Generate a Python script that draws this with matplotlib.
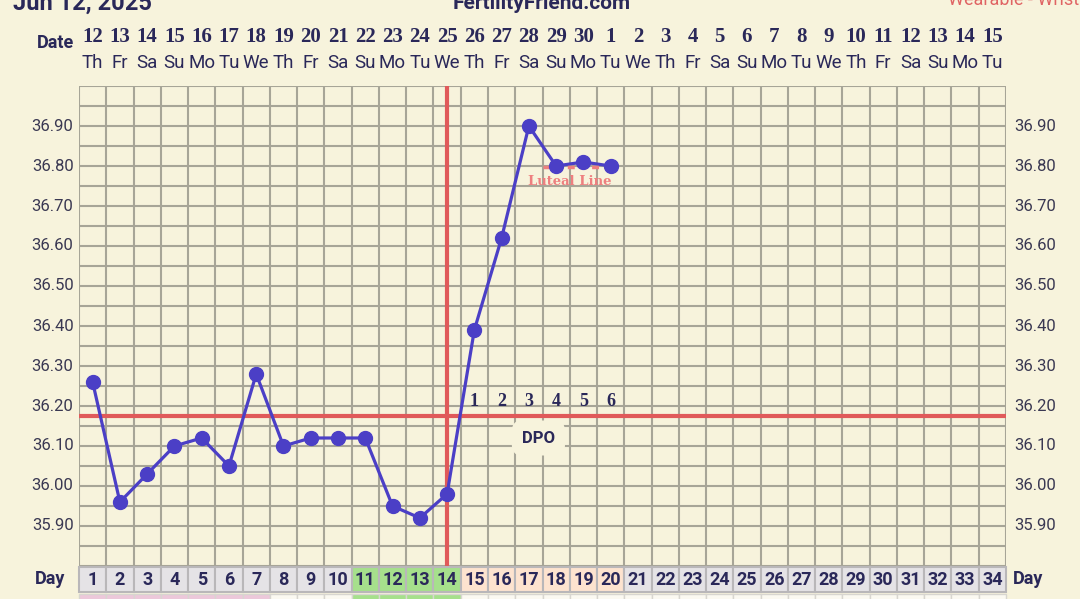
import matplotlib.pyplot as plt
from matplotlib.patches import Rectangle

# chart values
cycle_days = list(range(1, 35))
dates = [str(d) for d in range(12, 31)] + [str(d) for d in range(1, 16)]
weekdays = ["Th", "Fr", "Sa", "Su", "Mo", "Tu", "We"] * 5
weekdays = weekdays[:34]
temp_days = list(range(1, 21))
temps = [36.26, 35.96, 36.03, 36.10, 36.12, 36.05, 36.28, 36.10, 36.12, 36.12,
         36.12, 35.95, 35.92, 35.98, 36.39, 36.62, 36.90, 36.80, 36.81, 36.80]
coverline = 36.175
ovulation_day = 14
dpo_labels = ["1", "2", "3", "4", "5", "6"]
dpo_days = [15, 16, 17, 18, 19, 20]
luteal_level = 36.80
# cell phase for day row: gray / fertile green / luteal peach
day_phase = ["gray"] * 10 + ["green"] * 4 + ["peach"] * 6 + ["gray"] * 14
strip_phase = ["pink"] * 7 + ["white"] * 3 + ["green"] * 4 + ["white"] * 20

BG = "#f7f3dc"
GRID = "#a7a597"
NAVY = "#2a2859"
LINE = "#4b3fc6"
RED = "#e05a5a"
PHASE_COLORS = {"gray": "#e5e3e6", "green": "#a6e08c", "peach": "#fde3cf",
                "pink": "#ecc8da", "white": "#fbf9f1"}

fig = plt.figure(figsize=(10.8, 5.99), dpi=100, facecolor=BG)
ax = fig.add_axes([79 / 1080, 33 / 599, 927 / 1080, 480 / 599])
ax.set_facecolor(BG)
ax.set_xlim(0.5, 34.5)
ax.set_ylim(35.80, 37.00)

# grid
for i in range(35):
    ax.axvline(0.5 + i, color=GRID, lw=1.5, zorder=1)
for k in range(25):
    ax.axhline(35.80 + 0.05 * k, color=GRID, lw=1.5, zorder=1)
for s in ax.spines.values():
    s.set_visible(False)
ax.set_xticks([])
ax.set_yticks([])

# y labels both sides
for k in range(12):
    t = 35.90 + 0.1 * k
    if t > 36.95:
        continue
    ax.text(0.3, t, f"{t:.2f}", ha="right", va="center", fontsize=12,
            color="#3a3852", family="Roboto", clip_on=False)
    ax.text(34.8, t, f"{t:.2f}", ha="left", va="center", fontsize=12,
            color="#3a3852", family="Roboto", clip_on=False)

# header rows
for d, dt, wd in zip(cycle_days, dates, weekdays):
    ax.text(d, 37.122, dt, ha="center", va="center", fontsize=15,
            fontweight="bold", color=NAVY, family="Liberation Serif", clip_on=False)
    ax.text(d, 37.057, wd, ha="center", va="center", fontsize=13.5,
            color=NAVY, family="Roboto", clip_on=False)
ax.text(-0.35, 37.108, "Date", ha="center", va="center", fontsize=13,
        fontweight="bold", color=NAVY, family="Roboto", clip_on=False)

# day row and the strip under it
for d, ph, sp in zip(cycle_days, day_phase, strip_phase):
    ax.add_patch(Rectangle((d - 0.5, 35.735), 1, 0.063, facecolor=PHASE_COLORS[ph],
                           edgecolor="#b9b7b9", lw=1.5, clip_on=False, zorder=2))
    ax.add_patch(Rectangle((d - 0.5, 35.66), 1, 0.07, facecolor=PHASE_COLORS[sp],
                           edgecolor="#d8d6d0", lw=1, clip_on=False, zorder=2))
    ax.text(d, 35.766, str(d), ha="center", va="center", fontsize=13,
            fontweight="bold", color=NAVY, family="Roboto", clip_on=False, zorder=3)
ax.text(-0.55, 35.768, "Day", ha="center", va="center", fontsize=13,
        fontweight="bold", color=NAVY, family="Roboto", clip_on=False)
ax.text(34.75, 35.768, "Day", ha="left", va="center", fontsize=13,
        fontweight="bold", color=NAVY, family="Roboto", clip_on=False)

# coverline and ovulation line
ax.axhline(coverline, color=RED, lw=3, zorder=3)
ax.axvline(ovulation_day, color=RED, lw=3, zorder=3)

# dpo labels
for d, lab in zip(dpo_days, dpo_labels):
    ax.text(d, 36.21, lab, ha="center", va="center", fontsize=13,
            fontweight="bold", color=NAVY, family="Liberation Serif", zorder=4)
ax.text(17.35, 36.12, "DPO", ha="center", va="center", fontsize=12,
        fontweight="bold", color=NAVY, family="Roboto", zorder=4,
        bbox=dict(boxstyle="round,pad=0.6", facecolor=BG, edgecolor="none"))

# temperatures: line, then luteal dashes, then markers on top
ax.plot(temp_days, temps, color=LINE, lw=2.3, zorder=5)
ax.plot([17.5, 20.2], [luteal_level - 0.003, luteal_level - 0.003], color="#ee7f7f",
        lw=2.5, ls=(0, (2, 1.5)), zorder=6)
ax.text(18.5, 36.762, "Luteal Line", ha="center", va="center", fontsize=9.5,
        fontweight="bold", color="#ee7f7f", family="DejaVu Serif", zorder=6)
ax.plot(temp_days, temps, color=LINE, lw=0, marker="o", markersize=10, zorder=7)

# top texts (cut off by the edge)
fig.text(13 / 1080, 1 - 10 / 599, "Jun 12, 2025", ha="left", va="baseline",
         fontsize=17, fontweight="bold", color=NAVY, family="Roboto")
fig.text(542 / 1080, 1 - 9 / 599, "FertilityFriend.com", ha="center", va="baseline",
         fontsize=15, fontweight="bold", color=NAVY, family="Roboto")
fig.text(948 / 1080, 1 - 5 / 599, "Wearable - Wrist", ha="left", va="baseline",
         fontsize=13, color="#e06464", family="Roboto")

fig.savefig("out.png", dpi=100, facecolor=BG)
